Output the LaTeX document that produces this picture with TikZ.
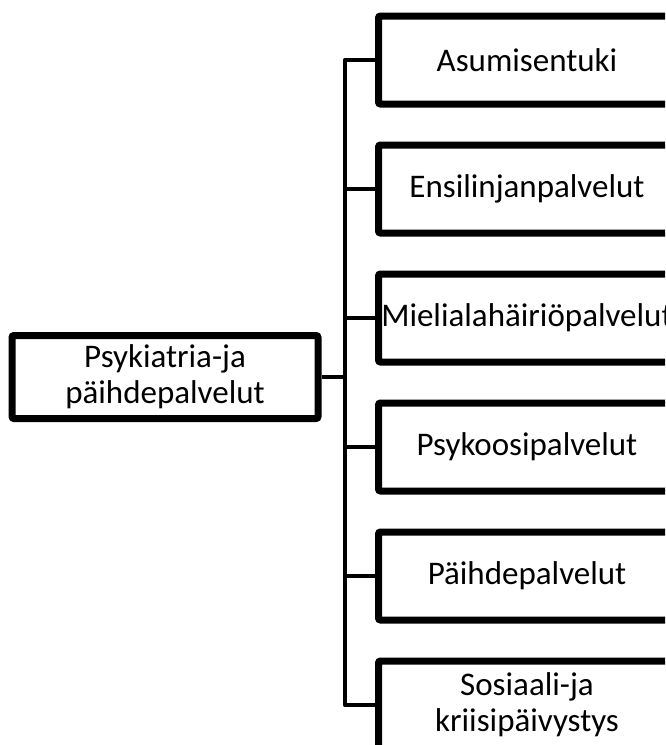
\documentclass[tikz,border=0pt]{standalone}
\usepackage{fontspec}
\setmainfont{Carlito}
\begin{document}
\begin{tikzpicture}[x=1pt,y=-1pt,
  box/.style={draw=black, line width=7pt, rounded corners=2pt, fill=white,
    font=\fontsize{33}{36}\selectfont, align=center, inner sep=0pt},
  leaf/.style={box, minimum width=297pt, minimum height=88pt, anchor=west},
  conn/.style={draw=black, line width=4.5pt, line join=round}]
\useasboundingbox (0,0) rectangle (665,745);
\clip (0,0) rectangle (665,745);
\node[box, minimum width=306pt, minimum height=83pt] (root) at (165,377) {Psykiatria-ja\\päihdepalvelut};
\coordinate (trunk) at (345,377);
\node[leaf] (a) at (375,60) {Asumisentuki};
\node[leaf] (b) at (375,189) {Ensilinjanpalvelut};
\node[leaf] (c) at (375,318) {Mielialahäiriöpalvelut};
\node[leaf] (d) at (375,447) {Psykoosipalvelut};
\node[leaf] (e) at (375,576) {Päihdepalvelut};
\node[leaf] (f) at (375,705) {Sosiaali-ja\\kriisipäivystys};
\draw[conn] (root.east) -- (trunk);
\draw[conn] (a.west) -- (trunk |- a.west) |- (f.west);
\foreach \n in {b,c,d,e} \draw[conn] (trunk |- \n.west) -- (\n.west);
\end{tikzpicture}
\end{document}
